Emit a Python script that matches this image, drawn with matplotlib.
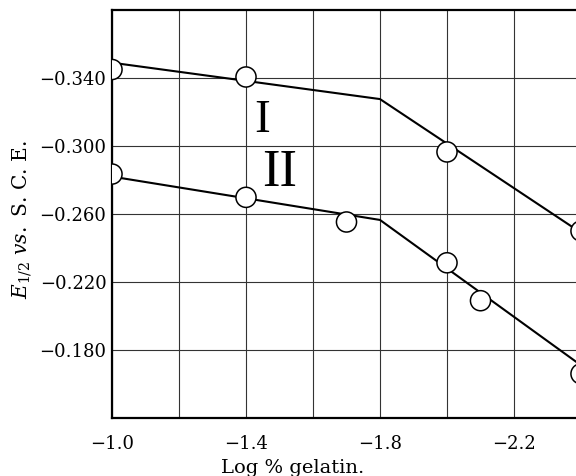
# E1/2 vs. log % gelatin -- two polarographic waves (I and II)

import matplotlib
matplotlib.use("Agg")
import matplotlib.pyplot as plt

plt.rcParams['font.family'] = ['DejaVu Serif']
plt.rcParams['mathtext.fontset'] = 'dejavuserif'

# measured points
wave1_x = [-1.0, -1.4, -2.0, -2.4]
wave1_y = [-0.345, -0.3406, -0.2965, -0.250]
wave2_x = [-1.0, -1.4, -1.7, -2.0, -2.1, -2.4]
wave2_y = [-0.2835, -0.2698, -0.2553, -0.2313, -0.209, -0.166]

# drawn (fitted) lines, break at -1.8
fit_x = [-1.0, -1.8, -2.4]
fit1_y = [-0.349, -0.3276, -0.249]
fit2_y = [-0.282, -0.2565, -0.171]

x_ticks = [-1.0, -1.2, -1.4, -1.6, -1.8, -2.0, -2.2, -2.4]
x_labels = ['\u22121.0', '', '\u22121.4', '', '\u22121.8', '', '\u22122.2', '']
y_ticks = [-0.34, -0.30, -0.26, -0.22, -0.18]
y_labels = ['\u22120.340', '\u22120.300', '\u22120.260', '\u22120.220', '\u22120.180']

fig = plt.figure(figsize=(5.76, 4.76), dpi=100)
ax = fig.add_axes([112/576, 58/476, 502.5/576, 408/476])

ax.set_xlim(-1.0, -2.5)
ax.set_ylim(-0.14, -0.38)

ax.set_xticks(x_ticks)
ax.set_xticklabels(x_labels)
ax.set_yticks(y_ticks)
ax.set_yticklabels(y_labels)
ax.tick_params(axis='both', length=0, labelsize=13)
ax.tick_params(axis='x', pad=12)
ax.tick_params(axis='y', pad=4)

ax.grid(True, color='0.2', lw=0.8)
ax.set_axisbelow(True)
for side in ['top', 'left', 'bottom', 'right']:
    ax.spines[side].set_linewidth(1.6)

ax.plot(fit_x, fit1_y, color='black', lw=1.5, zorder=3)
ax.plot(fit_x, fit2_y, color='black', lw=1.5, zorder=3)

# one size per point -> drawn as a path collection, which the frame clips
ax.scatter(wave1_x, wave1_y, s=[210] * len(wave1_x), facecolor='white',
           edgecolor='black', linewidths=1.1, zorder=4)
ax.scatter(wave2_x, wave2_y, s=[210] * len(wave2_x), facecolor='white',
           edgecolor='black', linewidths=1.1, zorder=4)

ax.text(-1.449, -0.3147, 'I', fontsize=34, family='Liberation Serif',
        ha='center', va='center', zorder=5)
ax.text(-1.5015, -0.2841, 'II', fontsize=38, family='Liberation Serif',
        ha='center', va='center', zorder=5)

fig.text(22/576, 1 - 220/476, r'$E_{1/2}$ $vs.$ S. C. E.', rotation=90,
         ha='center', va='center', fontsize=14.5)
fig.text(293/576, 1 - 468/476, 'Log % gelatin.', ha='center', va='center',
         fontsize=14)

fig.savefig('out.png', dpi=100)
